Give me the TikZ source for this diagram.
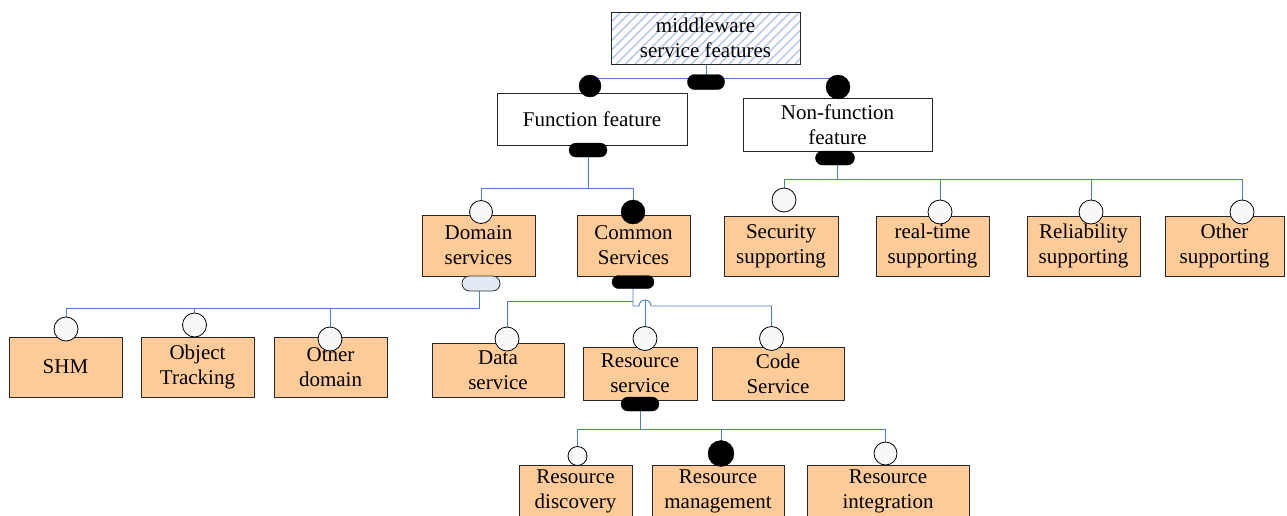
\documentclass[tikz,border=0pt]{standalone}
\usepackage{fontspec}
\setmainfont{Liberation Serif}
\usetikzlibrary{calc}
\pgfdeclarelayer{bg}
\pgfdeclarelayer{wires}
\pgfsetlayers{bg,wires,main}
\definecolor{tanfill}{RGB}{255,204,153}
\definecolor{wirecol}{RGB}{74,122,200}
\definecolor{hatchcol}{RGB}{186,204,234}
\definecolor{optfill}{RGB}{248,248,248}
\definecolor{orfill}{RGB}{226,233,244}

\begin{document}
\begin{tikzpicture}[x=1pt,y=-1pt,
  txt/.style={align=center, inner sep=0pt, font=\fontsize{21}{25}\selectfont},
  featbox/.style={txt, draw=black!85, line width=0.9pt, fill=tanfill, minimum height=60pt},
  plainbox/.style={txt, draw=black!85, line width=0.9pt, fill=white, minimum height=52pt},
  hatchbox/.style={plainbox, path picture={
      \foreach \i in {0,...,32}
        \draw[hatchcol, line width=1.6pt]
          ([xshift=\i*9.4pt-70pt]path picture bounding box.south west) -- ++(80,-80);}},
  mandatory/.style={circle, draw=black, fill=black, inner sep=0pt, minimum size=#1},
  optional/.style={circle, draw=black, line width=0.8pt, fill=optfill, inner sep=0pt, minimum size=#1},
  andbar/.style={draw=black, fill=black, inner sep=0pt, minimum width=38pt, minimum height=14pt, rounded corners=7pt},
  orbar/.style={draw=black!80, line width=0.8pt, fill=orfill, inner sep=0pt, minimum width=38pt, minimum height=15pt, rounded corners=7.5pt},
  wire/.style={draw=wirecol, line width=0.9pt}
]
\useasboundingbox (0,0) rectangle (1287,515);
\clip (0,0) rectangle (1287,515);
\begin{pgfonlayer}{bg}
  \fill[white] (0,0) rectangle (1287,515);
\end{pgfonlayer}

% ---------- feature boxes ----------
\node[hatchbox, minimum width=189pt] (root) at (705.5,38) {middleware\\service features};
\node[plainbox, minimum width=190pt] (func) at (592,119) {Function feature};
\node[plainbox, minimum width=189pt, minimum height=53pt] (nonfunc) at (837.5,124.5) {Non-function\\feature};

\node[featbox, minimum width=113pt, minimum height=61pt] (dom) at (478.5,245.5) {Domain\\services};
\node[featbox, minimum width=113pt, minimum height=61pt] (com) at (633.5,245.5) {Common\\Services};

\node[featbox, minimum width=114pt] (sec) at (781,246) {Security\\supporting};
\node[featbox, minimum width=113pt] (rt) at (932.5,246) {real-time\\supporting};
\node[featbox, minimum width=113pt] (rel) at (1083.5,246) {Reliability\\supporting};
\node[featbox, minimum width=119pt] (oth) at (1224.5,246) {Other\\supporting};

\node[featbox, minimum width=113pt] (shm) at (65.5,367) {SHM};
\node[featbox, minimum width=113pt] (obj) at (197.5,367) {Object\\Tracking};
\node[featbox, minimum width=113pt] (odom) at (330.5,367) {Other\\domain};

\node[featbox, minimum width=132pt, minimum height=54pt] (data) at (498,370) {Data\\service};
\node[featbox, minimum width=114pt, minimum height=53pt] (res) at (640,373.5) {Resource\\service};
\node[featbox, minimum width=132pt, minimum height=53pt] (code) at (778,373.5) {Code\\Service};

\node[featbox, minimum width=113pt, minimum height=52pt] (rdisc) at (575.5,491) {Resource\\discovery};
\node[featbox, minimum width=132pt, minimum height=52pt] (rman) at (718,491) {Resource\\management};
\node[featbox, minimum width=162pt, minimum height=52pt] (rint) at (888,491) {Resource\\integration};

% ---------- group bars ----------
\node[andbar, minimum width=37pt, minimum height=15pt] (rootbar) at (706,82) {};
\node[andbar] (funcbar) at (588,150) {};
\node[andbar, minimum width=39pt] (nfbar) at (835,158) {};
\node[orbar] (dombar) at (481,283.5) {};
\node[andbar, minimum width=42pt, minimum height=13pt, rounded corners=6.5pt] (combar) at (633,282) {};
\node[andbar] (resbar) at (640,404) {};

% ---------- mandatory / optional markers ----------
\node[mandatory=22pt] (mfunc) at (590,86) {};
\node[mandatory=24pt] (mnf) at (838,87) {};
\node[optional=23pt] (odom1) at (481,212) {};
\node[mandatory=24pt] (mcom) at (633,212) {};
\node[optional=24pt] (osec) at (784,200) {};
\node[optional=24pt] (ort) at (940,212) {};
\node[optional=24pt] (orel) at (1091,212) {};
\node[optional=24pt] (ooth) at (1242,212) {};
\node[optional=24pt] (oshm) at (66,329) {};
\node[optional=24pt] (oobj) at (194.5,325) {};
\node[optional=24pt] (oodom) at (330,339) {};
\node[optional=24pt] (odata) at (507,339) {};
\node[optional=24pt] (ores) at (645,338.5) {};
\node[optional=24pt] (ocode) at (771.5,338.5) {};
\node[optional=19pt] (ordisc) at (577.5,456) {};
\node[mandatory=26pt] (mrman) at (721,453.5) {};
\node[optional=23pt] (orint) at (885.5,453.5) {};

% ---------- bus levels ----------
\coordinate (rootbus) at (0,78);
\coordinate (funcbus) at (0,188);
\coordinate (nfbus) at (0,179);
\coordinate (dombus) at (0,308);
\coordinate (combusA) at (0,301);
\coordinate (combusB) at (0,306);
\coordinate (resbus) at (0,429);

% ---------- connectors ----------
\begin{pgfonlayer}{wires}
  % root
  \draw[wire] (rootbar.center) -- (rootbar.center |- root.south);
  \draw[wire] (mfunc.center |- rootbus) -- (mnf.center |- rootbus);
  % function feature
  \draw[wire] (funcbar.center) -- (funcbar.center |- funcbus);
  \draw[wire] (odom1.center) -- (odom1.center |- funcbus) -- (mcom.center |- funcbus) -- (mcom.center);
  % non-function feature
  \draw[wire] (nonfunc.south) -- (nonfunc.south |- nfbus);
  \draw[wire] (osec.center) -- (osec.center |- nfbus) -- (ooth.center |- nfbus) -- (ooth.center);
  \draw[wire] (ort.center) -- (ort.center |- nfbus);
  \draw[wire] (orel.center) -- (orel.center |- nfbus);
  % domain services
  \draw[wire] ([xshift=-2pt]dombar.center) -- ([xshift=-2pt]dombar.center |- dombus) -- (oshm.center |- dombus) -- (oshm.center);
  \draw[wire] (oobj.center) -- (oobj.center |- dombus);
  \draw[wire] (oodom.center) -- (oodom.center |- dombus);
  % common services
  \draw[wire] (odata.center) -- (odata.center |- combusA) -- (combar.center |- combusA);
  \draw[wire] (combar.center) -- (combar.center |- combusB)
    -- ($(ores.center |- combusB)+(-6,0)$) arc[start angle=180, end angle=360, radius=6]
    -- (ocode.center |- combusB) -- (ocode.center);
  \draw[wire] (ores.center) -- ($(ores.center |- combusB)+(0,-6)$);
  % resource service
  \draw[wire] (resbar.center) -- (resbar.center |- resbus);
  \draw[wire] (ordisc.center) -- (ordisc.center |- resbus) -- (orint.center |- resbus) -- (orint.center);
  \draw[wire] (mrman.center) -- (mrman.center |- resbus);
\end{pgfonlayer}
\end{tikzpicture}
\end{document}
